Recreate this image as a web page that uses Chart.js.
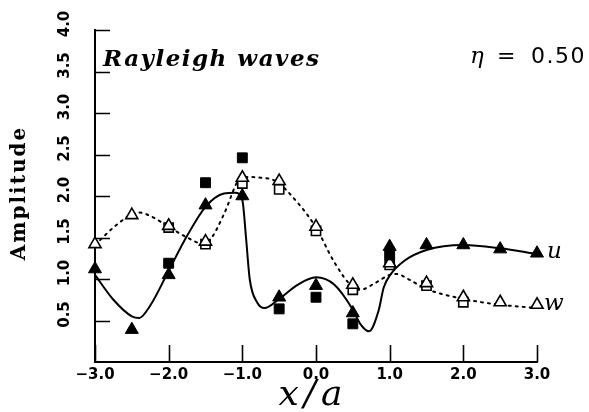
<!DOCTYPE html>
<html>
<head>
<meta charset="utf-8">
<script src="https://cdn.jsdelivr.net/npm/chart.js@4/dist/chart.umd.min.js"></script>
<style>
  html, body { margin: 0; padding: 0; background: #fff; }
  #wrap { width: 589px; height: 412px; position: relative; }
</style>
</head>
<body>
<div id="wrap"><canvas id="c" width="589" height="412"></canvas></div>
<script>
// Measured stations along x/a
const stationX = [-3, -2.5, -2, -1.5, -1, -0.5, 0, 0.5, 1, 1.5, 2, 2.5, 3];
// Horizontal amplitude u, filled triangles
const uTriangles = [1.12, 0.39, 1.05, 1.89, 2.0, 0.78, 0.92, 0.59, 1.39, 1.41, 1.41, 1.36, 1.31];
// Horizontal amplitude u, filled squares
const uSquareX = [-2, -1.5, -1, -0.5, 0, 0.5, 1];
const uSquares = [1.19, 2.16, 2.46, 0.64, 0.78, 0.46, 1.29];
// Vertical amplitude w, open triangles
const wTriangles = [1.42, 1.77, 1.64, 1.45, 2.22, 2.18, 1.63, 0.93, 1.19, 0.95, 0.78, 0.72, 0.69];
// Vertical amplitude w, open squares
const wSquareX = [-2, -1.5, -1, -0.5, 0, 0.5, 1, 1.5, 2];
const wSquares = [1.62, 1.42, 2.15, 2.08, 1.58, 0.87, 1.17, 0.92, 0.72];

// Computed curve for u (solid)
const uCurveX = [-3, -2.75, -2.5, -2.4, -2.25, -2, -1.75, -1.5, -1.25, -1.1, -1.0, -0.95, -0.9, -0.8, -0.7, -0.5, -0.25, 0, 0.25, 0.5, 0.6, 0.72, 0.85, 0.92, 1.0, 1.2, 1.5, 2.0, 2.5, 3.0];
const uCurveY = [1.05, 0.75, 0.55, 0.53, 0.68, 1.1, 1.52, 1.87, 2.03, 2.04, 1.95, 1.5, 1.0, 0.72, 0.65, 0.76, 0.93, 1.02, 0.93, 0.63, 0.46, 0.37, 0.62, 0.9, 1.04, 1.22, 1.35, 1.41, 1.37, 1.3];
// Computed curve for w (dotted)
const wCurveX = [-3, -2.75, -2.5, -2.4, -2.25, -2, -1.75, -1.55, -1.45, -1.25, -1.05, -1.0, -0.75, -0.55, -0.25, 0, 0.25, 0.5, 0.6, 0.8, 1.0, 1.1, 1.25, 1.5, 2.0, 2.5, 3.0];
const wCurveY = [1.41, 1.62, 1.78, 1.8, 1.76, 1.63, 1.5, 1.43, 1.46, 1.78, 2.2, 2.23, 2.22, 2.18, 1.92, 1.62, 1.2, 0.9, 0.87, 0.95, 1.05, 1.06, 1.0, 0.88, 0.76, 0.69, 0.65];

// Axis tick values
const xTickValues = [-3, -2, -1, 0, 1, 2, 3];
const yTickValues = [0.5, 1.0, 1.5, 2.0, 2.5, 3.0, 3.5, 4.0];

const pts = (xs, ys) => xs.map((x, i) => ({ x: x, y: ys[i] }));
const fmt = v => (v < 0 ? '\u2212' : '') + Math.abs(v).toFixed(1);

const decorations = {
  id: 'decorations',
  afterDraw(chart) {
    const ctx = chart.ctx;
    const xs = chart.scales.x, ys = chart.scales.y;
    const area = chart.chartArea;
    ctx.save();
    ctx.strokeStyle = '#000';
    ctx.fillStyle = '#000';
    ctx.lineWidth = 1.6;
    // inward tick marks
    ctx.beginPath();
    yTickValues.forEach(v => {
      const py = Math.round(ys.getPixelForValue(v)) + 0.5;
      ctx.moveTo(area.left, py);
      ctx.lineTo(area.left + 15, py);
    });
    xTickValues.forEach(v => {
      const px = Math.round(xs.getPixelForValue(v)) + 0.5;
      ctx.moveTo(px, area.bottom);
      ctx.lineTo(px, area.bottom - 17);
    });
    ctx.stroke();

    // rotated y tick labels
    ctx.font = 'bold 15px "DejaVu Sans"';
    ctx.textAlign = 'center';
    ctx.textBaseline = 'middle';
    yTickValues.forEach(v => {
      const py = ys.getPixelForValue(v) - 6;
      ctx.save();
      ctx.translate(65, py);
      ctx.rotate(-Math.PI / 2);
      ctx.fillText(v.toFixed(1), 0, 0);
      ctx.restore();
    });

    // y title
    ctx.save();
    ctx.translate(20, 193);
    ctx.rotate(-Math.PI / 2);
    ctx.font = 'bold 20px "DejaVu Serif"';
    ctx.letterSpacing = '2px';
    ctx.textAlign = 'center';
    ctx.textBaseline = 'middle';
    ctx.fillText('Amplitude', 0, 0);
    ctx.restore();

    // x title
    ctx.save();
    ctx.font = 'italic 36px "DejaVu Serif"';
    ctx.letterSpacing = '5px';
    ctx.textAlign = 'center';
    ctx.textBaseline = 'alphabetic';
    ctx.fillText('x/a', 313, 405);
    ctx.restore();

    // annotations
    ctx.save();
    ctx.textBaseline = 'alphabetic';
    ctx.textAlign = 'left';
    ctx.font = 'bold italic 23px "DejaVu Serif"';
    ctx.letterSpacing = '1.5px';
    ctx.fillText('Rayleigh waves', 103, 66);
    ctx.font = 'italic 23px "DejaVu Serif"';
    ctx.letterSpacing = '0px';
    ctx.fillText('\u03B7', 470, 63);
    ctx.font = '22px "DejaVu Sans"';
    ctx.fillText('=', 497, 63);
    ctx.letterSpacing = '1.5px';
    ctx.fillText('0.50', 531, 63);
    ctx.letterSpacing = '0px';
    ctx.font = 'italic 23px "DejaVu Serif"';
    ctx.fillText('u', 547, 258);
    ctx.fillText('w', 544, 310);
    ctx.restore();
    ctx.restore();
  }
};

new Chart(document.getElementById('c'), {
  type: 'scatter',
  data: {
    datasets: [
      {
        label: 'u (triangles)',
        data: pts(stationX, uTriangles),
        pointStyle: 'triangle', pointRadius: 7.5,
        backgroundColor: '#000', borderColor: '#000', borderWidth: 1,
        showLine: false, clip: false, order: 1
      },
      {
        label: 'u (squares)',
        data: pts(uSquareX, uSquares),
        pointStyle: 'rect', pointRadius: 7,
        backgroundColor: '#000', borderColor: '#000', borderWidth: 1,
        showLine: false, clip: false, order: 2
      },
      {
        label: 'w (triangles)',
        data: pts(stationX, wTriangles),
        pointStyle: 'triangle', pointRadius: 7,
        backgroundColor: '#fff', borderColor: '#000', borderWidth: 1.6,
        showLine: false, clip: false, order: 3
      },
      {
        label: 'w (squares)',
        data: pts(wSquareX, wSquares),
        pointStyle: 'rect', pointRadius: 6.5,
        backgroundColor: '#fff', borderColor: '#000', borderWidth: 1.6,
        showLine: false, clip: false, order: 4
      },
      {
        label: 'u',
        data: pts(uCurveX, uCurveY),
        showLine: true, pointRadius: 0,
        borderColor: '#000', borderWidth: 2,
        cubicInterpolationMode: 'monotone',
        clip: false, order: 5
      },
      {
        label: 'w',
        data: pts(wCurveX, wCurveY),
        showLine: true, pointRadius: 0,
        borderColor: '#000', borderWidth: 2,
        borderDash: [2, 5], borderCapStyle: 'round',
        cubicInterpolationMode: 'monotone',
        clip: false, order: 6
      }
    ]
  },
  options: {
    responsive: false,
    animation: false,
    events: [],
    layout: { padding: { top: 30, right: 52, left: 0, bottom: 0 } },
    plugins: { legend: { display: false }, tooltip: { enabled: false } },
    scales: {
      x: {
        type: 'linear', min: -3, max: 3,
        grid: { display: false, drawTicks: false },
        border: { display: true, color: '#000', width: 2 },
        ticks: {
          stepSize: 1, padding: 4, color: '#000',
          font: { family: 'DejaVu Sans', size: 15, weight: 'bold' },
          callback: v => fmt(v), maxRotation: 0
        },
        afterFit: s => { s.height = 50; }
      },
      y: {
        type: 'linear', min: 0, max: 4,
        grid: { display: false, drawTicks: false },
        border: { display: true, color: '#000', width: 2 },
        ticks: { display: false, stepSize: 0.5 },
        afterFit: s => { s.width = 95; }
      }
    }
  },
  plugins: [decorations]
});
</script>
</body>
</html>
